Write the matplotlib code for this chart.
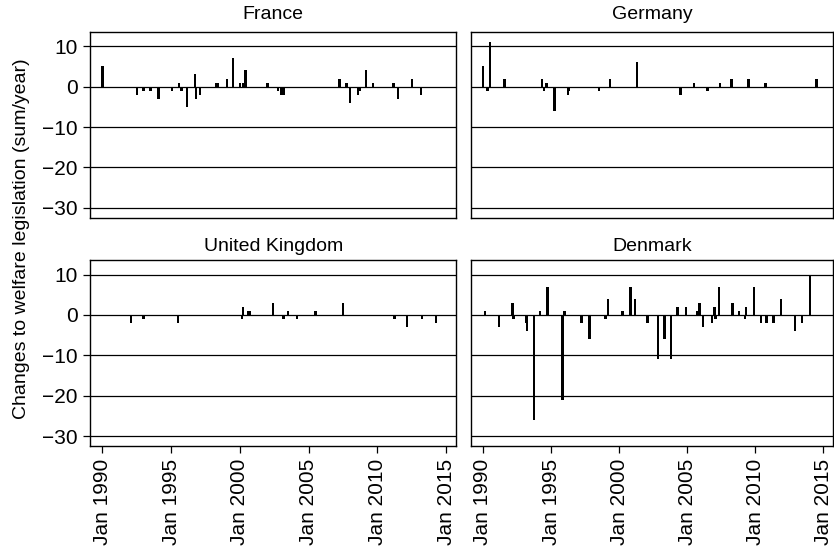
import numpy as np
import matplotlib
matplotlib.use("Agg")
import matplotlib.pyplot as plt

plt.rcParams["font.family"] = ["Liberation Sans", "DejaVu Sans"]

# monthly sums of welfare legislation changes, "YYYY-MM": value
france_dates = ["1990-01", "1992-07", "1993-01", "1993-07", "1994-02", "1995-02",
                "1995-08", "1995-10", "1996-03", "1996-10", "1996-11", "1997-02",
                "1998-04", "1998-06", "1999-02", "1999-07", "2000-01", "2000-04",
                "2000-06", "2002-01", "2002-10", "2003-01", "2003-03", "2007-04",
                "2007-10", "2008-01", "2008-08", "2008-10", "2009-03", "2009-09",
                "2011-03", "2011-07", "2012-07", "2013-03"]
france_vals = [5, -2, -1, -1, -3, -1, 1, -1, -5, 3, -3, -2, 1, 1, 2, 7, 1, 1,
               4, 1, -1, -2, -2, 2, 1, -4, -2, -1, 4, 1, 1, -3, 2, -2]

germany_dates = ["1990-01", "1990-05", "1990-07", "1991-08", "1994-05", "1994-07",
                 "1994-09", "1995-04", "1996-04", "1996-05", "1998-07", "1999-05",
                 "2001-05", "2004-07", "2005-07", "2006-07", "2007-06", "2008-04",
                 "2009-07", "2010-10", "2014-07"]
germany_vals = [5, -1, 11, 2, 2, -1, 1, -6, -2, -1, -1, 2, 6, -2, 1, -1, 1, 2,
                2, 1, 2]

uk_dates = ["1992-02", "1993-01", "1995-07", "2000-03", "2000-04", "2000-08",
            "2000-10", "2002-06", "2003-03", "2003-07", "2004-03", "2005-07",
            "2007-07", "2011-04", "2012-03", "2013-04", "2014-04"]
uk_vals = [-2, -1, -2, -1, 2, 1, 1, 3, -1, 1, -1, 1, 3, -1, -3, -1, -2]

denmark_dates = ["1990-03", "1991-03", "1992-03", "1992-04", "1993-03", "1993-04",
                 "1993-10", "1994-03", "1994-10", "1995-11", "1996-01", "1997-04",
                 "1997-11", "1999-01", "1999-03", "2000-04", "2000-11", "2001-03",
                 "2002-02", "2002-11", "2003-05", "2003-11", "2004-04", "2004-05",
                 "2004-12", "2005-10", "2005-12", "2006-03", "2006-11", "2007-01",
                 "2007-02", "2007-05", "2008-05", "2008-11", "2009-04", "2009-05",
                 "2009-12", "2010-06", "2010-11", "2011-05", "2011-12", "2012-12",
                 "2013-06", "2014-01"]
denmark_vals = [1, -3, 3, -1, -2, -4, -26, 1, 7, -21, 1, -2, -6, -1, 4, 1, 7, 4,
                -2, -11, -6, -11, 2, 2, 2, 1, 3, -3, -2, 2, -1, 7, 3, 1, -1, 2,
                7, -2, -2, -2, 4, -4, -2, 10]

countries = ["France", "Germany", "United Kingdom", "Denmark"]
series = [(france_dates, france_vals), (germany_dates, germany_vals),
          (uk_dates, uk_vals), (denmark_dates, denmark_vals)]

y_ticks = [10, 0, -10, -20, -30]
x_ticks = [1990, 1995, 2000, 2005, 2010, 2015]
x_labels = ["Jan 1990", "Jan 1995", "Jan 2000", "Jan 2005", "Jan 2010", "Jan 2015"]


def to_year(d):
    y, m = d.split("-")
    return int(y) + (int(m) - 1) / 12.0


fig = plt.figure(figsize=(8.34, 5.49), dpi=100)

# panel boxes in figure fractions: left, bottom, width, height
boxes = [
    [0.1079, 0.6036, 0.4394, 0.3388],
    [0.5644, 0.6036, 0.4350, 0.3388],
    [0.1079, 0.1876, 0.4394, 0.3388],
    [0.5644, 0.1876, 0.4350, 0.3388],
]

for i, (name, (dates, vals)) in enumerate(zip(countries, series)):
    ax = fig.add_axes(boxes[i])
    x = np.array([to_year(d) for d in dates])
    for yt in y_ticks:
        ax.axhline(yt, color="black", lw=0.9, zorder=1)
    ax.bar(x, vals, width=0.17, color="black", zorder=2)
    ax.set_xlim(1989.1, 2015.75)
    ax.set_ylim(-32.4, 13.6)
    for s in ax.spines.values():
        s.set_linewidth(1.0)

    ax.set_yticks(y_ticks)
    ax.set_xticks(x_ticks)
    ax.tick_params(direction="out", length=5, width=0.9, labelsize=15, pad=4)
    if i % 2 == 0:
        ax.set_yticklabels(["10", "0", "\u221210", "\u221220", "\u221230"])
    else:
        ax.tick_params(axis="y", left=False, labelleft=False)
    if i >= 2:
        ax.set_xticklabels(x_labels, rotation=90)
    else:
        ax.tick_params(axis="x", bottom=False, labelbottom=False)

    title_y = 1.09 if i < 2 else 1.07
    ax.text(0.5, title_y, name, transform=ax.transAxes, ha="center",
            va="center", fontsize=14)

fig.text(22 / 834, 0.565, "Changes to welfare legislation (sum/year)",
         rotation=90, ha="center", va="center", fontsize=14)

fig.savefig("out.png", dpi=100)
